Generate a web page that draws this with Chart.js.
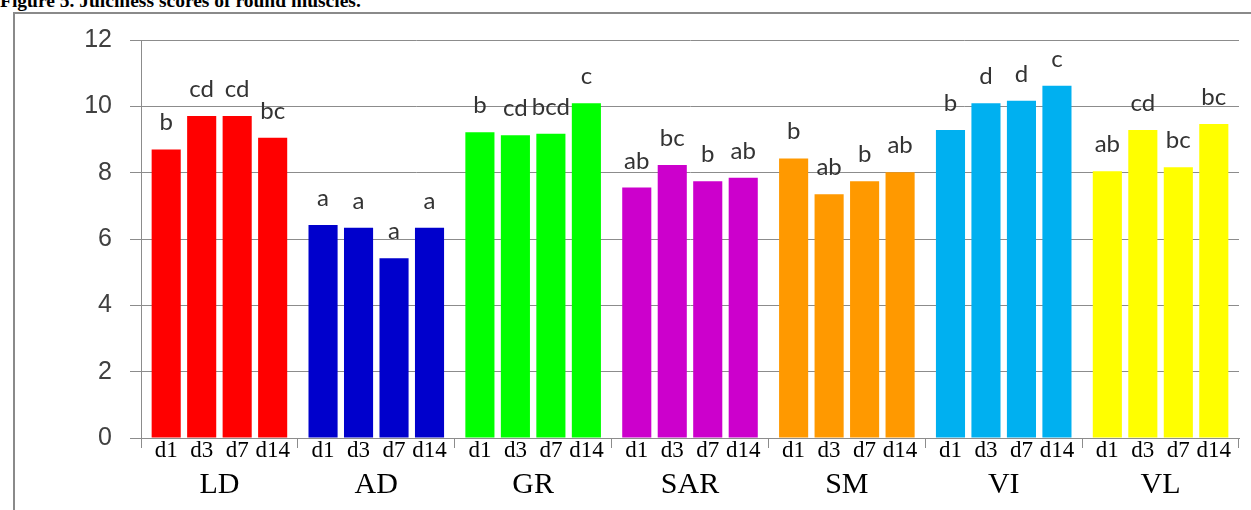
<!DOCTYPE html>
<html>
<head>
<meta charset="utf-8">
<script src="https://cdn.jsdelivr.net/npm/chart.js@4"></script>
<style>
  html, body { margin: 0; padding: 0; background: #fff; overflow: hidden; }
  #title {
    position: absolute; left: 0; top: -9px;
    font: bold 19.5px "Liberation Serif", serif; line-height: 20px;
    color: #000; white-space: nowrap;
  }
  #frame {
    position: absolute; left: 13px; top: 12px; width: 1400px; height: 700px;
    border: 2px solid #8a8a8a;
  }
  #chart { position: absolute; left: 0; top: 0; }
</style>
</head>
<body>
<div id="title">Figure 5. Juiciness scores of round muscles.</div>
<div id="frame"></div>
<canvas id="chart" width="1251" height="510"></canvas>
<script>
// ---------- Data ----------
const muscles = ["LD", "AD", "GR", "SAR", "SM", "VI", "VL"];
const days = ["d1", "d3", "d7", "d14"];
const muscleColors = ["#FF0000", "#0000CC", "#00FF00", "#CC00CC", "#FF9900", "#00B0F0", "#FFFF00"];

const d1 = [8.70, 6.42, 9.22, 7.55, 8.43, 9.29, 8.04];
const d3 = [9.71, 6.34, 9.13, 8.23, 7.35, 10.09, 9.29];
const d7 = [9.71, 5.42, 9.17, 7.74, 7.74, 10.17, 8.16];
const d14 = [9.05, 6.34, 10.09, 7.85, 8.01, 10.62, 9.47];

const d1Letters = ["b", "a", "b", "ab", "b", "b", "ab"];
const d3Letters = ["cd", "a", "cd", "bc", "ab", "d", "cd"];
const d7Letters = ["cd", "a", "bcd", "b", "b", "d", "bc"];
const d14Letters = ["bc", "a", "c", "ab", "ab", "c", "bc"];

const yTicks = [0, 2, 4, 6, 8, 10, 12];

const seriesValues = [d1, d3, d7, d14];
const seriesLetters = [d1Letters, d3Letters, d7Letters, d14Letters];

// ---------- Plugin: letters above bars + day labels under bars ----------
const barLabels = {
  id: 'barLabels',
  afterDatasetsDraw(chart) {
    const c = chart.ctx;
    const area = chart.chartArea;
    c.save();
    c.textAlign = 'center';
    chart.data.datasets.forEach((ds, i) => {
      const meta = chart.getDatasetMeta(i);
      meta.data.forEach((bar, j) => {
        // significance letter
        c.font = '24px Lato, "Liberation Sans", sans-serif';
        c.fillStyle = '#333333';
        c.textBaseline = 'alphabetic';
        c.fillText(seriesLetters[i][j], bar.x, bar.y - 19);
        // day label
        c.font = '23px "Liberation Serif", serif';
        c.fillStyle = '#000000';
        c.textBaseline = 'middle';
        c.fillText(days[i], bar.x, area.bottom + 13);
      });
    });
    c.restore();
  }
};

// ---------- Chart ----------
const ctx = document.getElementById('chart').getContext('2d');
new Chart(ctx, {
  type: 'bar',
  data: {
    labels: muscles,
    datasets: days.map((d, i) => ({
      label: d,
      data: seriesValues[i],
      backgroundColor: muscleColors,
      borderWidth: 0,
      categoryPercentage: 0.905,
      barPercentage: 0.82
    }))
  },
  options: {
    responsive: false,
    animation: false,
    devicePixelRatio: 1,
    layout: { padding: { top: 40, right: 12, left: 0, bottom: 0 } },
    plugins: {
      legend: { display: false },
      tooltip: { enabled: false }
    },
    scales: {
      x: {
        grid: { offset: true, drawOnChartArea: false, tickLength: 10, color: '#8c8c8c' },
        border: { color: '#8c8c8c' },
        ticks: {
          font: { family: '"Liberation Serif", serif', size: 30 },
          color: '#000',
          padding: 19,
          maxRotation: 0
        },
        afterFit: s => { s.height = 72; }
      },
      y: {
        min: 0,
        max: 12,
        afterBuildTicks: s => { s.ticks = yTicks.map(v => ({ value: v })); },
        grid: { color: '#8c8c8c', tickLength: 11 },
        border: { color: '#8c8c8c' },
        ticks: {
          font: { family: '"Liberation Sans", sans-serif', size: 25 },
          color: '#404040',
          padding: 18
        },
        afterFit: s => { s.width = 141; }
      }
    }
  },
  plugins: [barLabels]
});
</script>
</body>
</html>
